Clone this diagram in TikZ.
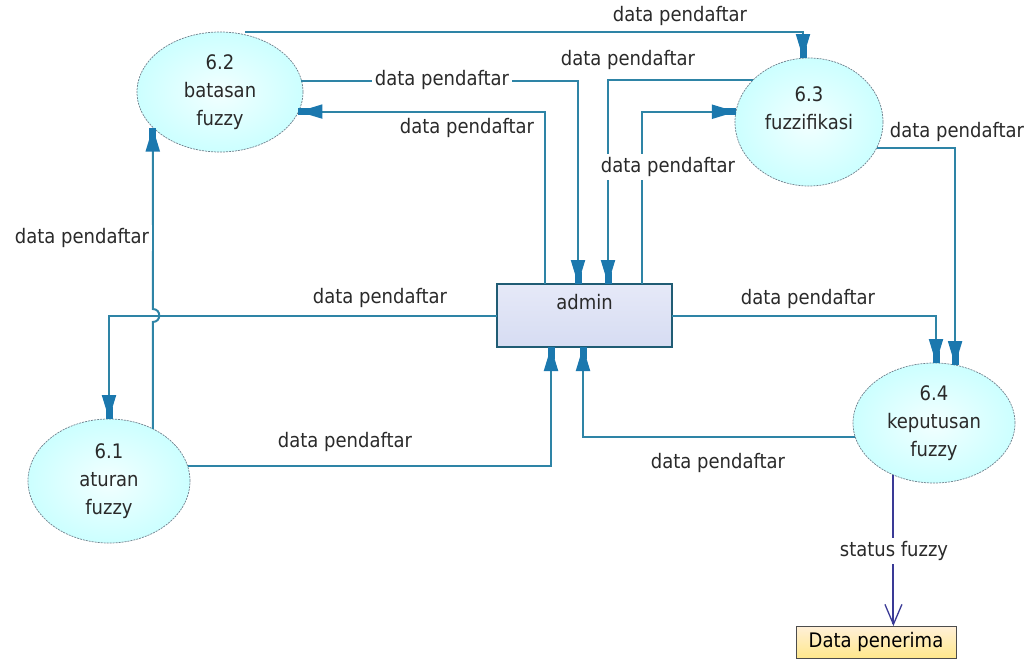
\documentclass[tikz,border=0pt]{standalone}
\usepackage{fontspec}
\setmainfont{DejaVu Sans Condensed}
\usetikzlibrary{arrows.meta,shapes.geometric,calc}
\definecolor{flowc}{HTML}{2E84A6}
\definecolor{tipc}{HTML}{1B78AE}
\definecolor{txt}{HTML}{2A2A2A}
\definecolor{navy}{HTML}{3A3A96}
\definecolor{procline}{HTML}{6F7F8C}
\definecolor{entfillA}{HTML}{E6E9F8}
\definecolor{entfillB}{HTML}{D6DCF2}
\begin{document}
\begin{tikzpicture}[x=1pt,y=-1pt,
  every node/.style={font=\fontsize{20}{28}\selectfont, text=txt},
  proc/.style={ellipse, draw=procline, line width=0.7pt, dash pattern=on 2pt off 1pt,
    inner sep=0pt, outer sep=0pt, align=center,
    shading=radial, inner color=cyan!5, outer color=cyan!20},
  ent/.style={rectangle, draw=flowc!70!black, line width=1.6pt, align=center,
    minimum width=175pt, minimum height=63pt, inner sep=0pt, outer sep=0pt,
    top color=entfillA, bottom color=entfillB},
  storebox/.style={rectangle, draw=black!70, line width=1pt,
    minimum width=160pt, minimum height=32pt, inner sep=0pt, outer sep=0pt,
    top color=yellow!20!orange!15, bottom color=yellow!60!orange!45, text=black},
  flowtip/.tip={Triangle[length=24pt,width=14pt,sep=-12pt,color=tipc]Rectangle[length=12pt,width=7pt,color=tipc]},
  flow/.style={draw=flowc, line width=2pt, -{flowtip}},
  statusflow/.style={draw=navy, line width=2pt, -{Straight Barb[length=20pt,width=17pt,line width=1.3pt]}},
  lbl/.style={inner sep=2pt},
  lblw/.style={inner sep=3pt, fill=white}]
\useasboundingbox (0,0) rectangle (1031,662);

% processes, terminator and data store
\node[proc, minimum width=166pt, minimum height=120pt] (n62) at (220,92) {6.2\\batasan\\fuzzy};
\node[proc, minimum width=148pt, minimum height=128pt] (n63) at (809,122) {6.3\\fuzzifikasi\\\mbox{}};
\node[proc, minimum width=162pt, minimum height=124pt] (n61) at (109,481) {6.1\\aturan\\fuzzy};
\node[proc, minimum width=162pt, minimum height=120pt] (n64) at (934,423) {6.4\\keputusan\\fuzzy};
\node[ent] (admin) at (584.5,315.5) {admin\\\mbox{}};
\node[storebox] (dp) at (876,642) {Data penerima};

% 6.2 -> 6.3 across the top
\coordinate (topstart) at ([xshift=25pt]n62.north);
\coordinate (topend) at ([xshift=-6pt]n63.north);
\draw[flow] (topstart) -- (topstart -| topend) -- (topend);
% 6.2 -> admin
\draw[flow] (n62.8) -| ([xshift=-6.5pt]admin.north);
% admin -> 6.2
\draw[flow] ([xshift=-39.5pt]admin.north) |- (n62.-14);
% 6.3 -> admin
\draw[flow] (n63.143) -| ([xshift=23.5pt]admin.north);
% admin -> 6.3
\draw[flow] ([xshift=57.5pt]admin.north) |- (n63.172);
% 6.3 -> 6.4
\draw[flow] (n63.-21) -| (n64.70);
% admin -> 6.4
\draw[flow] (admin.east) -| ([xshift=2pt]n64.north);
% 6.4 -> admin
\draw[flow] (n64.190) -| ([xshift=-1.5pt]admin.south);
% 6.1 -> admin
\draw[flow] (n61.11) -| ([xshift=-33.5pt]admin.south);
% admin -> 6.1
\draw[flow] (admin.west) -| (n61.north);
% 6.1 -> 6.2, hopping over the admin -> 6.1 line
\coordinate (hop) at (n61.50 |- admin.west);
\coordinate (hopa) at ($(hop)+(0,6.5)$);
\coordinate (hopb) at ($(hop)+(0,-6.5)$);
\draw[flow] (n61.50) -- (hopa) .. controls ($(hopa)+(8.7,0)$) and ($(hopb)+(8.7,0)$) .. (hopb) -- (n61.50 |- n62.208);
% 6.4 -> Data penerima
\draw[statusflow] (n64.232) -- (n64.232 |- dp.north);

% flow labels
\node[lbl] (t1) at (680,16) {data pendaftar};
\node[lblw] (t2) at (442,80) {data pendaftar};
\node[lbl] (t3) at (467,128) {data pendaftar};
\node[lbl] (t4) at (628,60) {data pendaftar};
\node[lblw] (t5) at (668,167) {data pendaftar};
\node[lbl] (t6) at (957,132) {data pendaftar};
\node[lblw] (t7) at (82,238) {data pendaftar};
\node[lbl] (t8) at (380,298) {data pendaftar};
\node[lbl] (t9) at (808,299) {data pendaftar};
\node[lbl] (t10) at (345,442) {data pendaftar};
\node[lbl] (t11) at (718,463) {data pendaftar};
\node[lblw] (t12) at (894,551) {status fuzzy};
\end{tikzpicture}
\end{document}
